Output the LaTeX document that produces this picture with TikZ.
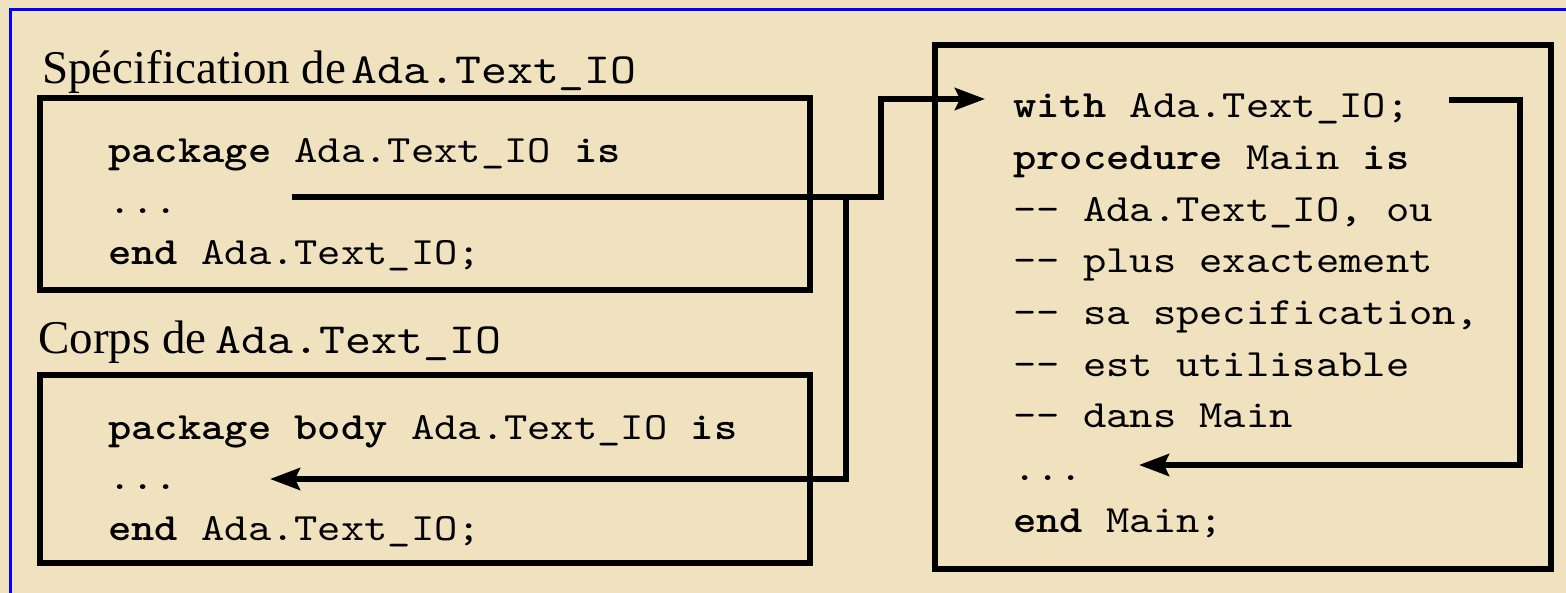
\documentclass[tikz,border=0pt]{standalone}
\usepackage{fontspec}
\usetikzlibrary{arrows.meta}
\newfontfamily\titleserif{Liberation Serif}
\newfontfamily\codemono{lmmono10-regular}[Extension=.otf,BoldFont=lmmonolt10-bold,FakeStretch=1.15]
\definecolor{parch}{RGB}{240,226,190}
\definecolor{frameblue}{RGB}{0,0,255}
\tikzset{
  x=1pt,y=-1pt,
  boxstyle/.style={draw=black,line width=5.5pt,inner sep=0pt},
  codeline/.style={anchor=base west,inner sep=0pt,font=\codemono\fontsize{38.6}{46}\selectfont},
  titletext/.style={anchor=base west,inner sep=0pt},
  conn/.style={line width=5.5pt,draw=black},
  arr/.style={conn,-{Stealth[length=30pt,width=22pt,inset=5pt]}}
}
\newcommand{\tmono}[1]{{\codemono\fontsize{43}{50}\selectfont #1}}
\begin{document}
\begin{tikzpicture}
\useasboundingbox (0,0) rectangle (1566,593);
\fill[parch] (0,0) rectangle (1566,593);
\draw[frameblue,line width=3pt] (1575,10) -- (10,10) -- (10,600);

% boxes
\node[boxstyle,minimum width=770,minimum height=192] (specbox) at (425,194) {};
\node[boxstyle,minimum width=770,minimum height=188] (bodybox) at (425,469) {};
\node[boxstyle,minimum width=616,minimum height=524] (mainbox) at (1243,307) {};

% titles
\node[titletext] (spectitle) at (42,84) {{\titleserif\fontsize{47}{52}\selectfont Spécification de}\hspace{5pt}\tmono{Ada.Text\_IO}};
\node[titletext] (bodytitle) at (38,354) {{\titleserif\fontsize{47}{52}\selectfont Corps de}\hspace{9pt}\tmono{Ada.Text\_IO}};

% spec code
\node[codeline] (s1) at (108,163) {\textbf{package} Ada.Text\_IO \textbf{is}};
\node[codeline] (s2) at (108,214) {...};
\node[codeline] (s3) at (108,265) {\textbf{end} Ada.Text\_IO;};

% body code
\node[codeline] (b1) at (108,439) {\textbf{package body} Ada.Text\_IO \textbf{is}};
\node[codeline] (b2) at (108,489) {...};
\node[codeline] (b3) at (108,540) {\textbf{end} Ada.Text\_IO;};

% main code
\node[codeline] (m1) at (1013,118) {\textbf{with} Ada.Text\_IO;};
\node[codeline] (m2) at (1013,170) {\textbf{procedure} Main \textbf{is}};
\node[codeline] (m3) at (1013,222) {-{}- Ada.Text\_IO, ou};
\node[codeline] (m4) at (1013,273) {-{}- plus exactement};
\node[codeline] (m5) at (1013,325) {-{}- sa specification,};
\node[codeline] (m6) at (1013,377) {-{}- est utilisable};
\node[codeline] (m7) at (1013,428) {-{}- dans Main};
\node[codeline] (m8) at (1013,480) {...};
\node[codeline] (m9) at (1013,532) {\textbf{end} Main;};

% connector anchor points
\coordinate (aStart) at (292,197);
\coordinate (aUp) at (881,197);
\coordinate (aTop) at (881,99);
\coordinate (aEnd) at (985,99);
\coordinate (bStart) at (846,197);
\coordinate (bDown) at (846,479);
\coordinate (bEnd) at (270,479);
\coordinate (cStart) at (1449,100);
\coordinate (cRight) at (1520,100);
\coordinate (cDown) at (1520,465);
\coordinate (cEnd) at (1139,465);

\draw[arr] (aStart) -- (aUp) -- (aTop) -- (aEnd);
\draw[arr] (bStart) -- (bDown) -- (bEnd);
\draw[arr] (cStart) -- (cRight) -- (cDown) -- (cEnd);
\end{tikzpicture}
\end{document}
